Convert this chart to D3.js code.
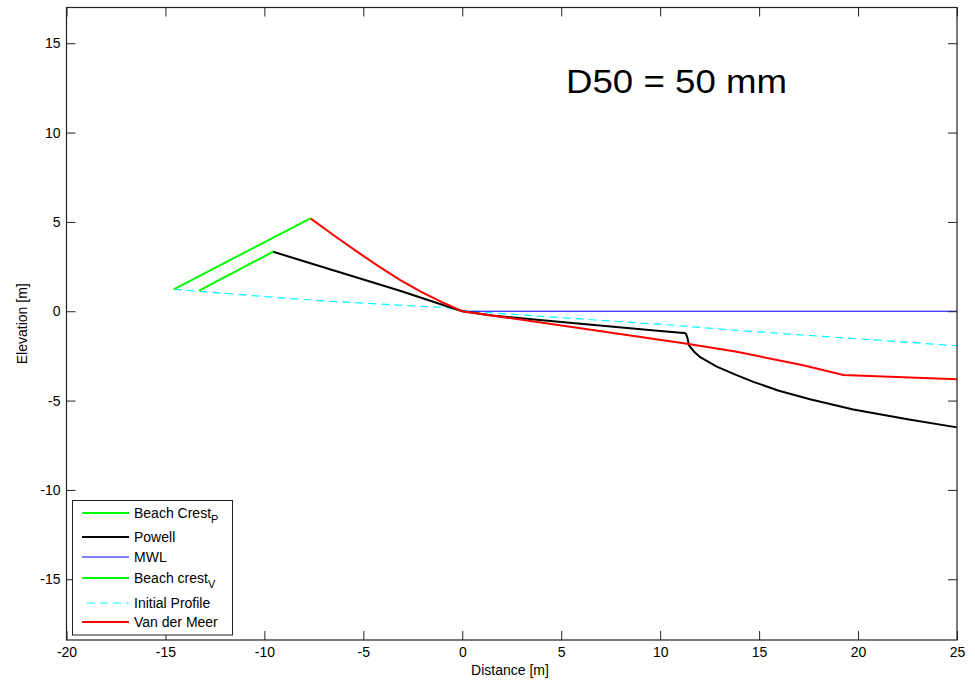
<!DOCTYPE html>
<html>
<head>
<meta charset="utf-8">
<script src="https://cdn.jsdelivr.net/npm/d3@7"></script>
<style>
  html, body { margin: 0; padding: 0; background: #fff; }
  svg { display: block; font-family: "Liberation Sans", Arial, sans-serif; }
</style>
</head>
<body>
<svg id="chart" width="975" height="683"></svg>
<script>
// Profile data: [distance (m), elevation (m)]
const initialProfile = [[-14.58, 1.23], [-11.5, 0.95], [-8.21, 0.67], [-5, 0.45], [-0.79, 0.2], [0, 0.05], [2, -0.13], [5, -0.36], [10.5, -0.77], [14, -1.08], [17.2, -1.33], [21, -1.62], [25, -1.93]];
const powell = [[-9.56, 3.33], [-8.21, 2.87], [-5, 1.78], [-3.15, 1.15], [-0.97, 0.35], [0, 0], [1.5, -0.24], [5, -0.6], [10, -1.1], [11.2, -1.22], [11.3, -1.25], [11.38, -1.5], [11.45, -1.9], [11.7, -2.25], [12.0, -2.55], [12.86, -3.1], [13.8, -3.55], [14.71, -3.95], [16.0, -4.45], [17.57, -4.93], [19.76, -5.5], [22.5, -6.05], [25, -6.5]];
const vanDerMeer = [[-7.67, 5.2], [-6.5, 4.25], [-5.3, 3.32], [-4.2, 2.5], [-3.15, 1.76], [-2.1, 1.1], [-1, 0.5], [0, 0], [11.28, -1.8], [13.87, -2.27], [17.17, -3.01], [19.26, -3.57], [25, -3.8]];
const mwl = [[0, 0], [25, 0]];
const beachCrestP = [[-13.3, 1.15], [-9.56, 3.33]];
const beachCrestV = [[-14.58, 1.23], [-7.67, 5.2]];

const xTicks = [-20, -15, -10, -5, 0, 5, 10, 15, 20, 25];
const yTicks = [-15, -10, -5, 0, 5, 10, 15];
const xDomain = [-20, 25];
const yDomain = [-18.4, 17];

// Legend entries in drawing order
const legendItems = [
  { name: "Beach Crest", sub: "P", color: "#00ff00", width: 2, dash: null },
  { name: "Powell", sub: null, color: "#000000", width: 2, dash: null },
  { name: "MWL", sub: null, color: "#0000ff", width: 1, dash: null },
  { name: "Beach crest", sub: "V", color: "#00ff00", width: 2, dash: null },
  { name: "Initial Profile", sub: null, color: "#00ffff", width: 1, dash: "8,5" },
  { name: "Van der Meer", sub: null, color: "#ff0000", width: 2, dash: null }
];

const svg = d3.select("#chart");
const plot = { left: 66.5, top: 7.5, right: 957, bottom: 640 };

const x = d3.scaleLinear().domain(xDomain).range([plot.left, plot.right]);
const y = d3.scaleLinear().domain(yDomain).range([plot.bottom, plot.top]);

const line = d3.line().x(d => x(d[0])).y(d => y(d[1]));

const g = svg.append("g");

// Data lines
const series = [
  { data: initialProfile, color: "#00ffff", width: 1.2, dash: "8,5" },
  { data: mwl, color: "#0000ff", width: 1, dash: null },
  { data: powell, color: "#000000", width: 2, dash: null },
  { data: vanDerMeer, color: "#ff0000", width: 2, dash: null },
  { data: beachCrestP, color: "#00ff00", width: 2, dash: null },
  { data: beachCrestV, color: "#00ff00", width: 2, dash: null }
];
g.selectAll("path.series").data(series).join("path")
  .attr("class", "series")
  .attr("d", d => line(d.data))
  .attr("fill", "none")
  .attr("stroke", d => d.color)
  .attr("stroke-width", d => d.width)
  .attr("stroke-dasharray", d => d.dash)
  .attr("stroke-linejoin", "round");

// Axes with inward ticks on all four sides; labels use a plain hyphen minus
const fmt = d => String(d);
const tickLen = 9;
const axisColor = "#222";
const axes = [
  { ax: d3.axisBottom(x).tickValues(xTicks).tickSize(-tickLen).tickPadding(7).tickFormat(fmt), tr: `translate(0,${plot.bottom})` },
  { ax: d3.axisTop(x).tickValues(xTicks).tickSize(-tickLen).tickFormat(""), tr: `translate(0,${plot.top})` },
  { ax: d3.axisLeft(y).tickValues(yTicks).tickSize(-tickLen).tickPadding(6).tickFormat(fmt), tr: `translate(${plot.left},0)` },
  { ax: d3.axisRight(y).tickValues(yTicks).tickSize(-tickLen).tickFormat(""), tr: `translate(${plot.right},0)` }
];
axes.forEach(a => {
  const ag = svg.append("g").attr("transform", a.tr).call(a.ax);
  ag.select(".domain").remove();
  ag.selectAll(".tick line").attr("stroke", axisColor).attr("stroke-width", 1);
  ag.selectAll(".tick text").attr("fill", "#000").attr("font-size", 14)
    .attr("font-family", "'Liberation Sans', Arial, sans-serif");
});

// Frame
svg.append("rect")
  .attr("x", plot.left).attr("y", plot.top)
  .attr("width", plot.right - plot.left).attr("height", plot.bottom - plot.top)
  .attr("fill", "none").attr("stroke", axisColor).attr("stroke-width", 1.2);

// Axis titles
svg.append("text")
  .attr("x", 510).attr("y", 675)
  .attr("text-anchor", "middle").attr("font-size", 14)
  .text("Distance [m]");
svg.append("text")
  .attr("transform", `translate(27,${(plot.top + plot.bottom) / 2}) rotate(-90)`)
  .attr("text-anchor", "middle").attr("font-size", 14)
  .text("Elevation [m]");

// Annotation
svg.append("text")
  .attr("x", 566).attr("y", 93)
  .attr("font-size", 34)
  .attr("textLength", 221)
  .attr("lengthAdjust", "spacingAndGlyphs")
  .attr("font-family", "'Liberation Sans', Arial, sans-serif")
  .text("D50 = 50 mm");

// Legend
const lg = svg.append("g");
lg.append("rect")
  .attr("x", 72.5).attr("y", 500.5).attr("width", 160).attr("height", 134.5)
  .attr("fill", "#fff").attr("stroke", axisColor).attr("stroke-width", 1);
const rowY = [513, 537, 557, 578, 603, 622];
const rows = lg.selectAll("g.row").data(legendItems).join("g")
  .attr("class", "row")
  .attr("transform", (d, i) => `translate(0,${rowY[i]})`);
rows.append("line")
  .attr("x1", d => d.dash ? 87 : 82).attr("x2", 129)
  .attr("stroke", d => d.color)
  .attr("stroke-width", d => d.width === 1 ? 1.2 : 2)
  .attr("stroke-dasharray", d => d.dash);
const txt = rows.append("text")
  .attr("x", 134).attr("y", 5)
  .attr("font-size", 14);
txt.append("tspan").text(d => d.name);
txt.filter(d => d.sub).append("tspan")
  .attr("dy", 5).attr("font-size", 11)
  .text(d => d.sub);
</script>
</body>
</html>
